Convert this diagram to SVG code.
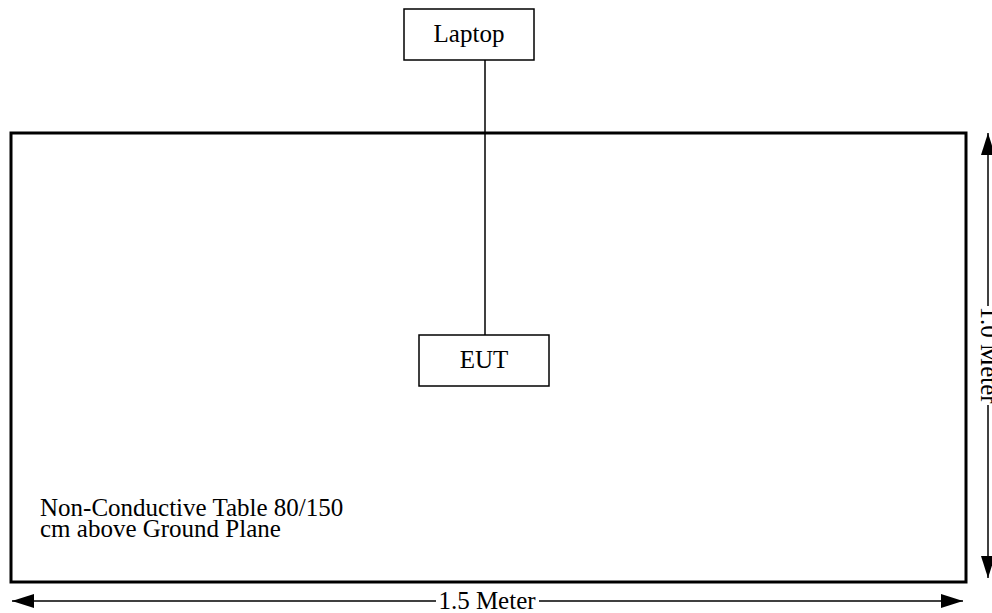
<svg xmlns="http://www.w3.org/2000/svg" width="992" height="613" viewBox="0 0 992 613">
<style>
.box{fill:#fff;stroke:#000;stroke-width:1.5}
.t{font-family:"Liberation Serif","Times New Roman",serif;font-size:25px;fill:#000}
.ln{stroke:#000;stroke-width:1.5;fill:none}
</style>
<defs>
<marker id="ah" markerWidth="22" markerHeight="14" refX="22" refY="7" orient="auto" markerUnits="userSpaceOnUse">
<path d="M0,0 L22,7 L0,14 Z" fill="#000"/>
</marker>
</defs>
<rect width="992" height="613" fill="#fff"/>
<g id="table">
<rect x="11" y="133" width="955" height="449" fill="none" stroke="#000" stroke-width="3"/>
<text class="t" x="40" y="516">Non-Conductive Table 80/150</text>
<text class="t" x="40" y="537">cm above Ground Plane</text>
</g>
<g id="connectors">
<line class="ln" x1="485" y1="60" x2="485" y2="335"/>
<line class="ln" x1="436" y1="601" x2="12" y2="601" marker-end="url(#ah)"/>
<line class="ln" x1="539" y1="601" x2="963" y2="601" marker-end="url(#ah)"/>
<line class="ln" x1="988" y1="306" x2="988" y2="133" marker-end="url(#ah)"/>
<line class="ln" x1="988" y1="405" x2="988" y2="578" marker-end="url(#ah)"/>
</g>
<g id="laptop">
<rect class="box" x="404" y="9" width="130" height="51"/>
<text class="t" x="469" y="42" text-anchor="middle">Laptop</text>
</g>
<g id="eut">
<rect class="box" x="419" y="335" width="130" height="51"/>
<text class="t" x="484" y="368" text-anchor="middle">EUT</text>
</g>
<g id="dims">
<text class="t" x="487" y="609" text-anchor="middle">1.5 Meter</text>
<text class="t" x="0" y="0" text-anchor="middle" transform="translate(981,355) rotate(90)">1.0 Meter</text>
</g>
</svg>
